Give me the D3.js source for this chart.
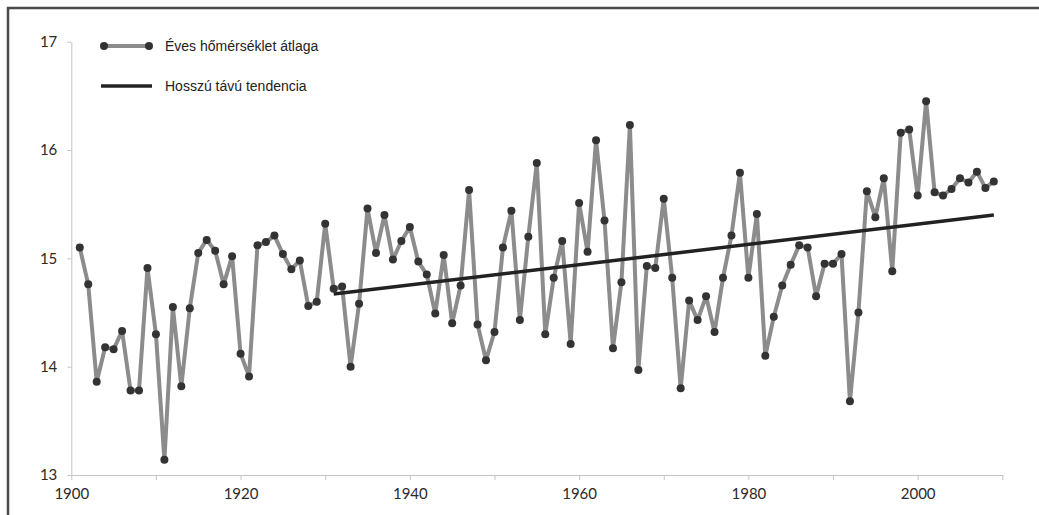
<!DOCTYPE html>
<html>
<head>
<meta charset="utf-8">
<script src="https://cdnjs.cloudflare.com/ajax/libs/d3/7.8.5/d3.min.js"></script>
<style>
    body { margin: 0; background: #fff; }
    .axis text { font-family: Lato, "Liberation Sans", sans-serif; font-size: 15px; fill: #2a2a2a; }
    .axis path, .axis line { stroke: #c4c4c4; }
    .legendText { font-family: "Liberation Sans", Arial, sans-serif; font-size: 14px; fill: #222; }
</style>
</head>
<body>
<div id="chart"></div>
<script>
// yearly values
var firstYear = 1901;
var temps = [
    15.10, 14.76, 13.86, 14.18, 14.16, 14.33, 13.78, 13.78, 14.91, 14.30,
    13.14, 14.55, 13.82, 14.54, 15.05, 15.17, 15.07, 14.76, 15.02, 14.12,
    13.91, 15.12, 15.15, 15.21, 15.04, 14.90, 14.98, 14.56, 14.60, 15.32,
    14.72, 14.74, 14.00, 14.58, 15.46, 15.05, 15.40, 14.99, 15.16, 15.29,
    14.97, 14.85, 14.49, 15.03, 14.40, 14.75, 15.63, 14.39, 14.06, 14.32,
    15.10, 15.44, 14.43, 15.20, 15.88, 14.30, 14.82, 15.16, 14.21, 15.51,
    15.06, 16.09, 15.35, 14.17, 14.78, 16.23, 13.97, 14.93, 14.91, 15.55,
    14.82, 13.80, 14.61, 14.43, 14.65, 14.32, 14.82, 15.21, 15.79, 14.82,
    15.41, 14.10, 14.46, 14.75, 14.94, 15.12, 15.10, 14.65, 14.95, 14.95,
    15.04, 13.68, 14.50, 15.62, 15.38, 15.74, 14.88, 16.16, 16.19, 15.58,
    16.45, 15.61, 15.58, 15.64, 15.74, 15.70, 15.80, 15.65, 15.71
];
var years = temps.map(function (d, i) { return firstYear + i; });

// long term trend, start and end
var trendYears = [1931, 2009];
var trendValues = [14.67, 15.40];

var xTicks = [1900, 1910, 1920, 1930, 1940, 1950, 1960, 1970, 1980, 1990, 2000, 2010];
var xLabels = [1900, 1920, 1940, 1960, 1980, 2000];
var yTicks = [13, 14, 15, 16, 17];

var legendLabels = ["Éves hőmérséklet átlaga", "Hosszú távú tendencia"];

var width = 1039, height = 515;

var svg = d3.select("#chart").append("svg")
    .attr("width", width)
    .attr("height", height);

// frame, only top and left edge show
svg.append("line")
    .attr("x1", 7).attr("x2", width).attr("y1", 8).attr("y2", 8)
    .attr("stroke", "#4a4a4a").attr("stroke-width", 2.5);
svg.append("line")
    .attr("x1", 8).attr("x2", 8).attr("y1", 7).attr("y2", height)
    .attr("stroke", "#4a4a4a").attr("stroke-width", 2.5);

var xScale = d3.scaleLinear().domain([1900, 2010]).range([71.3, 1002.3]);
var yScale = d3.scaleLinear().domain([13, 17]).range([475, 41.7]);

var xAxis = d3.axisBottom(xScale)
    .tickValues(xTicks)
    .tickSize(5)
    .tickPadding(8)
    .tickSizeOuter(0)
    .tickFormat(function (d) { return xLabels.indexOf(d) >= 0 ? d : ""; });

svg.append("g")
    .attr("class", "axis")
    .attr("transform", "translate(0," + yScale(13) + ")")
    .call(xAxis);

var yAxis = d3.axisLeft(yScale)
    .tickValues(yTicks)
    .tickSize(4)
    .tickPadding(10)
    .tickSizeOuter(0)
    .tickFormat(d3.format("d"));

svg.append("g")
    .attr("class", "axis")
    .attr("transform", "translate(" + xScale(1900) + ",0)")
    .call(yAxis);

// yearly line with dots
var line = d3.line()
    .x(function (d, i) { return xScale(years[i]); })
    .y(function (d) { return yScale(d); });

svg.append("path")
    .datum(temps)
    .attr("d", line)
    .attr("fill", "none")
    .attr("stroke", "#8c8c8c")
    .attr("stroke-width", 4)
    .attr("stroke-linejoin", "round");

// trend line
var trendLine = d3.line()
    .x(function (d, i) { return xScale(trendYears[i]); })
    .y(function (d) { return yScale(d); });

svg.append("path")
    .datum(trendValues)
    .attr("d", trendLine)
    .attr("fill", "none")
    .attr("stroke", "#222")
    .attr("stroke-width", 3.5);

svg.selectAll(".dot").data(temps)
    .enter()
    .append("circle")
    .attr("class", "dot")
    .attr("cx", function (d, i) { return xScale(years[i]); })
    .attr("cy", function (d) { return yScale(d); })
    .attr("r", 4)
    .attr("fill", "#333");

// legend
var legend = svg.append("g");

legend.append("line")
    .attr("x1", 104).attr("x2", 149).attr("y1", 46).attr("y2", 46)
    .attr("stroke", "#8c8c8c").attr("stroke-width", 4);
legend.selectAll(".legendDot").data([104, 149])
    .enter()
    .append("circle")
    .attr("cx", function (d) { return d; })
    .attr("cy", 46)
    .attr("r", 4)
    .attr("fill", "#333");

legend.append("line")
    .attr("x1", 101).attr("x2", 152).attr("y1", 86).attr("y2", 86)
    .attr("stroke", "#222").attr("stroke-width", 3.5);

legend.selectAll(".legendText").data(legendLabels)
    .enter()
    .append("text")
    .attr("class", "legendText")
    .attr("x", 165)
    .attr("y", function (d, i) { return 46 + i * 40; })
    .attr("dy", "0.35em")
    .text(function (d) { return d; });
</script>
</body>
</html>
